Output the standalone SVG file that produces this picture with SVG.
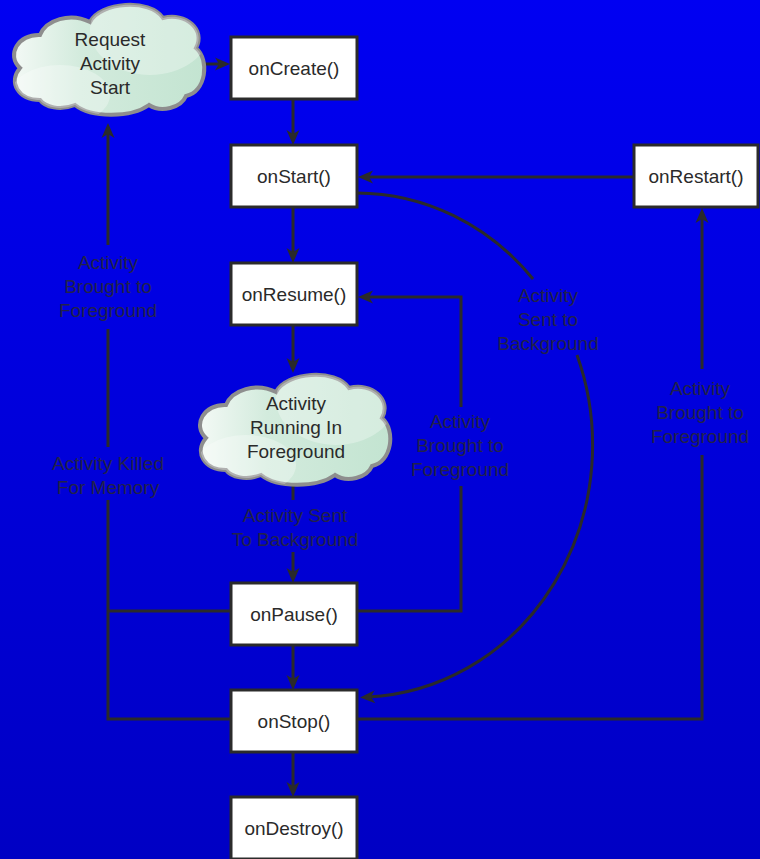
<svg xmlns="http://www.w3.org/2000/svg" width="760" height="859" viewBox="0 0 760 859">
<defs>
<linearGradient id="bg" x1="0" y1="0" x2="0" y2="1">
<stop offset="0" stop-color="#0000f2"/>
<stop offset="1" stop-color="#0000c4"/>
</linearGradient>
<linearGradient id="cg" x1="0" y1="0" x2="1" y2="0">
<stop offset="0" stop-color="#f3f9f5"/>
<stop offset="0.35" stop-color="#d3ebdd"/>
<stop offset="1" stop-color="#c3e4d1"/>
</linearGradient>
<path id="cloud" d="M40,100 C18,100 8,82 20,68 C6,55 18,34 40,35 C46,20 70,12 90,22 C100,2 150,-2 163,18 C186,12 206,30 196,48 C210,60 206,92 186,96 C181,108 161,113 149,105 C131,118 91,118 75,105 C60,111 45,107 40,100 Z"/>
<clipPath id="cc"><use href="#cloud"/></clipPath>
<marker id="ah" viewBox="-8 -7 17 14" refX="0" refY="0" markerWidth="17" markerHeight="14" markerUnits="userSpaceOnUse" orient="auto">
<path d="M8,0 L-7,-6.5 L-3,0 L-7,6.5 Z" fill="#2a2a2a"/>
</marker>
</defs>
<style>
.box{fill:#ffffff;stroke:#2b2b2b;stroke-width:3}
.t{font-family:"Liberation Sans",Arial,sans-serif;font-size:19px;fill:#2a2a2a;text-anchor:middle}
.lbl{font-family:"Liberation Sans",Arial,sans-serif;font-size:19px;fill:#22224a;text-anchor:middle}
.ln{fill:none;stroke:#2a2a2a;stroke-width:3}
.cl{fill:url(#cg);stroke:#8e8e8e;stroke-width:4}
.hl{fill:#ffffff;opacity:0.3}
</style>
<rect x="0" y="0" width="760" height="859" fill="url(#bg)"/>

<g id="connectors">
<path class="ln" d="M203,64 L222,64" marker-end="url(#ah)"/>
<path class="ln" d="M293,99 L293,137" marker-end="url(#ah)"/>
<path class="ln" d="M634,177 L366,177" marker-end="url(#ah)"/>
<path class="ln" d="M293,207 L293,255" marker-end="url(#ah)"/>
<path class="ln" d="M293,325 L293,365" marker-end="url(#ah)"/>
<path class="ln" d="M293,480 L293,500"/>
<path class="ln" d="M293,552 L293,575" marker-end="url(#ah)"/>
<path class="ln" d="M293,645 L293,682" marker-end="url(#ah)"/>
<path class="ln" d="M293,752 L293,789" marker-end="url(#ah)"/>
<path class="ln" d="M357,611 L461,611 L461,486"/>
<path class="ln" d="M461,407 L461,297 L366,297" marker-end="url(#ah)"/>
<path class="ln" d="M357,719 L702,719 L702,455"/>
<path class="ln" d="M702,369 L702,216" marker-end="url(#ah)"/>
<path class="ln" d="M231,611 L108,611"/>
<path class="ln" d="M231,719 L108,719 L108,500"/>
<path class="ln" d="M108,447 L108,329"/>
<path class="ln" d="M108,245 L108,131" marker-end="url(#ah)"/>
<path class="ln" d="M357,193 A235,252 0 0 1 533,279"/>
<path class="ln" d="M577,355 A235,252 0 0 1 368,697" marker-end="url(#ah)"/>
</g>

<g id="labels">
<text class="lbl" x="108" y="269">Activity</text>
<text class="lbl" x="108" y="293">Brought to</text>
<text class="lbl" x="108" y="317">Foreground</text>
<text class="lbl" x="108" y="470">Activity Killed</text>
<text class="lbl" x="108" y="494">For Memory</text>
<text class="lbl" x="295" y="522">Activity Sent</text>
<text class="lbl" x="295" y="546">To Background</text>
<text class="lbl" x="548" y="302">Activity</text>
<text class="lbl" x="548" y="326">Sent to</text>
<text class="lbl" x="548" y="350">Background</text>
<text class="lbl" x="460" y="428">Activity</text>
<text class="lbl" x="460" y="452">Brought to</text>
<text class="lbl" x="460" y="476">Foreground</text>
<text class="lbl" x="700" y="395">Activity</text>
<text class="lbl" x="700" y="419">Brought to</text>
<text class="lbl" x="700" y="443">Foreground</text>
</g>

<g id="request-start">
<use href="#cloud" class="cl"/>
<g clip-path="url(#cc)">
<ellipse class="hl" cx="150" cy="30" rx="60" ry="45"/>
<ellipse class="hl" cx="60" cy="95" rx="50" ry="30"/>
</g>
<text class="t" x="110" y="46">Request</text>
<text class="t" x="110" y="70">Activity</text>
<text class="t" x="110" y="94">Start</text>
</g>

<g id="running">
<g transform="translate(186,370)">
<use href="#cloud" class="cl"/>
<g clip-path="url(#cc)">
<ellipse class="hl" cx="150" cy="30" rx="60" ry="45"/>
<ellipse class="hl" cx="60" cy="95" rx="50" ry="30"/>
</g>
</g>
<text class="t" x="296" y="410">Activity</text>
<text class="t" x="296" y="434">Running In</text>
<text class="t" x="296" y="458">Foreground</text>
</g>

<g id="onCreate"><rect class="box" x="231" y="37" width="126" height="62"/><text class="t" x="294" y="75">onCreate()</text></g>
<g id="onStart"><rect class="box" x="231" y="145" width="126" height="62"/><text class="t" x="294" y="183">onStart()</text></g>
<g id="onRestart"><rect class="box" x="634" y="145" width="124" height="62"/><text class="t" x="696" y="183">onRestart()</text></g>
<g id="onResume"><rect class="box" x="231" y="263" width="126" height="62"/><text class="t" x="294" y="301">onResume()</text></g>
<g id="onPause"><rect class="box" x="231" y="583" width="126" height="62"/><text class="t" x="294" y="621">onPause()</text></g>
<g id="onStop"><rect class="box" x="231" y="690" width="126" height="62"/><text class="t" x="294" y="728">onStop()</text></g>
<g id="onDestroy"><rect class="box" x="231" y="797" width="126" height="62"/><text class="t" x="294" y="835">onDestroy()</text></g>
</svg>
